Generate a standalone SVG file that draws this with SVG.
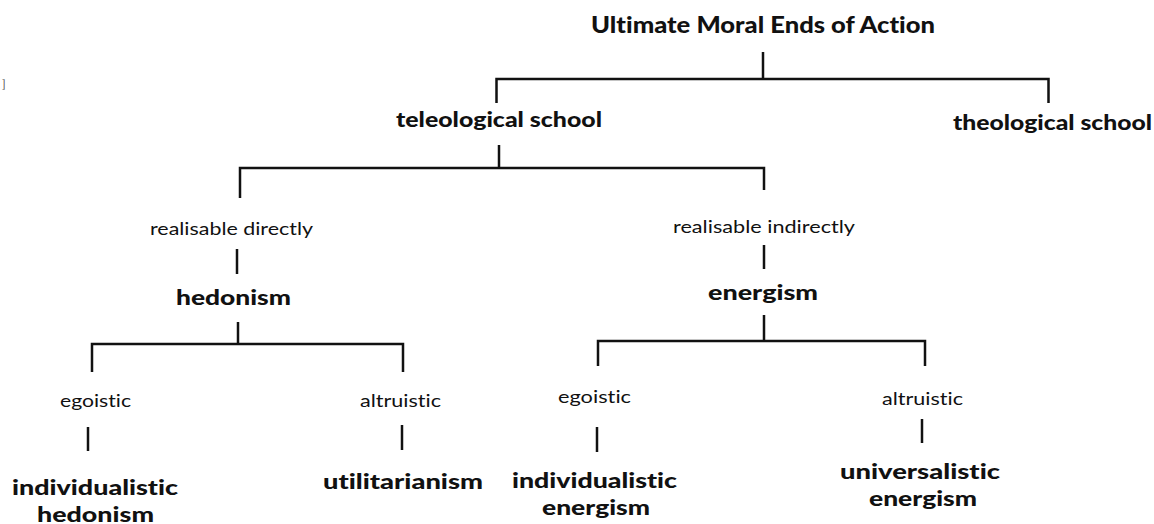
<svg xmlns="http://www.w3.org/2000/svg" width="1154" height="524" viewBox="0 0 1154 524">
<style>
text{font-family:Lato,"Open Sans","Liberation Sans",sans-serif;fill:#111;font-variant-ligatures:none;font-feature-settings:"liga" 0,"clig" 0;}
.b{font-weight:900;font-size:20px;}
.t{font-weight:900;font-size:22px;}
.r{font-weight:400;font-size:18px;}
.m{font-size:12px;fill:#555;}
#connectors path{fill:none;stroke:#111;stroke-width:2.5;}
</style>
<rect width="1154" height="524" fill="#fff"/>
<text class="m" x="2" y="88">]</text>
<g id="connectors">
<path d="M763,52V78"/>
<path d="M496.5,103V79H1048.5V103"/>
<path d="M499,145V169"/>
<path d="M240,198V168H764V190"/>
<path d="M237,249V274"/>
<path d="M764,245V269"/>
<path d="M238,322V344"/>
<path d="M92,372V344H403V372"/>
<path d="M764,315V341"/>
<path d="M598,366V341H925V366"/>
<path d="M88,427V451"/>
<path d="M402,425V450"/>
<path d="M597,427V452"/>
<path d="M922,419V443"/>
</g>
<g id="root"><text class="t" x="591" y="33" textLength="344" lengthAdjust="spacingAndGlyphs">Ultimate Moral Ends of Action</text></g>
<g id="teleological"><text class="b" x="396" y="127" textLength="206" lengthAdjust="spacingAndGlyphs">teleological school</text></g>
<g id="theological"><text class="b" x="953" y="130" textLength="199" lengthAdjust="spacingAndGlyphs">theological school</text></g>
<g id="directly"><text class="r" x="150" y="235" textLength="163" lengthAdjust="spacingAndGlyphs">realisable directly</text></g>
<g id="indirectly"><text class="r" x="673" y="233" textLength="182" lengthAdjust="spacingAndGlyphs">realisable indirectly</text></g>
<g id="hedonism"><text class="b" x="176" y="305" textLength="115" lengthAdjust="spacingAndGlyphs">hedonism</text></g>
<g id="energism"><text class="b" x="708" y="300" textLength="110" lengthAdjust="spacingAndGlyphs">energism</text></g>
<g id="egoistic-h"><text class="r" x="60" y="407" textLength="71" lengthAdjust="spacingAndGlyphs">egoistic</text></g>
<g id="altruistic-h"><text class="r" x="360" y="407" textLength="81" lengthAdjust="spacingAndGlyphs">altruistic</text></g>
<g id="egoistic-e"><text class="r" x="558" y="403" textLength="73" lengthAdjust="spacingAndGlyphs">egoistic</text></g>
<g id="altruistic-e"><text class="r" x="882" y="405" textLength="81" lengthAdjust="spacingAndGlyphs">altruistic</text></g>
<g id="ind-hedonism">
<text class="b" x="12" y="495" textLength="166" lengthAdjust="spacingAndGlyphs">individualistic</text>
<text class="b" x="37" y="522" textLength="117" lengthAdjust="spacingAndGlyphs">hedonism</text>
</g>
<g id="utilitarianism"><text class="b" x="323" y="489" textLength="160" lengthAdjust="spacingAndGlyphs">utilitarianism</text></g>
<g id="ind-energism">
<text class="b" x="512" y="488" textLength="165" lengthAdjust="spacingAndGlyphs">individualistic</text>
<text class="b" x="542" y="515" textLength="108" lengthAdjust="spacingAndGlyphs">energism</text>
</g>
<g id="uni-energism">
<text class="b" x="840" y="479" textLength="160" lengthAdjust="spacingAndGlyphs">universalistic</text>
<text class="b" x="869" y="506" textLength="108" lengthAdjust="spacingAndGlyphs">energism</text>
</g>
</svg>
